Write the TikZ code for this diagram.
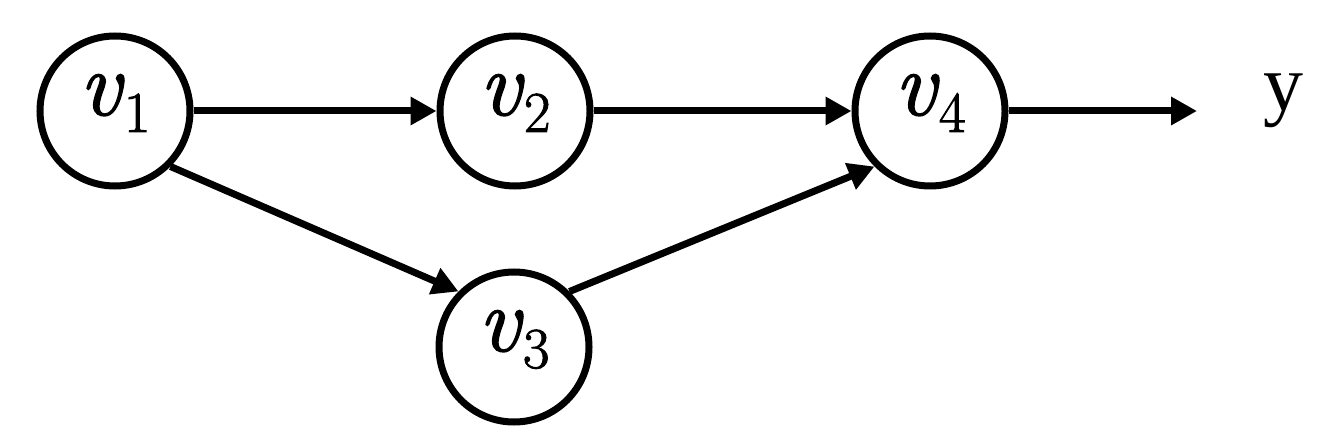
\documentclass[tikz,border=0pt]{standalone}
\usepackage{fontspec}
\newfontfamily\tnr{Liberation Serif}
\newfontfamily\vfont[FakeBold=1.6]{Latin Modern Roman}
\usetikzlibrary{arrows.meta}
\newcommand{\vsub}[1]{{\vfont\itshape v}\kern3pt\raisebox{-17pt}{\vfont\fontsize{58}{68}\selectfont #1}}
\begin{document}
\begin{tikzpicture}[x=1pt,y=-1pt,
  vnode/.style={circle,draw,line width=7pt,minimum size=150pt,inner sep=0pt,
    text height=40pt,text depth=32pt,font=\fontsize{92}{110}\selectfont},
  lbl/.style={inner sep=0pt,font=\tnr\fontsize{80}{96}\selectfont},
  conn/.style={line width=7pt,-{Triangle[length=26pt,width=27pt]}}]
\useasboundingbox (0,0) rectangle (1321,438);
\node[vnode] (v1) at (115,111) {\vsub{1}};
\node[vnode] (v2) at (515,111) {\vsub{2}};
\node[vnode] (v3) at (514,347) {\vsub{3}};
\node[vnode] (v4) at (930,111) {\vsub{4}};
\node[lbl,anchor=base] (y) at (1283,111) {y};
\coordinate (yend) at (1197,111);
\draw[conn] (v1) -- (v2);
\draw[conn] (v2) -- (v4);
\draw[conn] (v1.-45) -- (v3.135);
\draw[conn] (v3.45) -- (v4.225);
\draw[conn] (v4) -- (yend);
\end{tikzpicture}
\end{document}
